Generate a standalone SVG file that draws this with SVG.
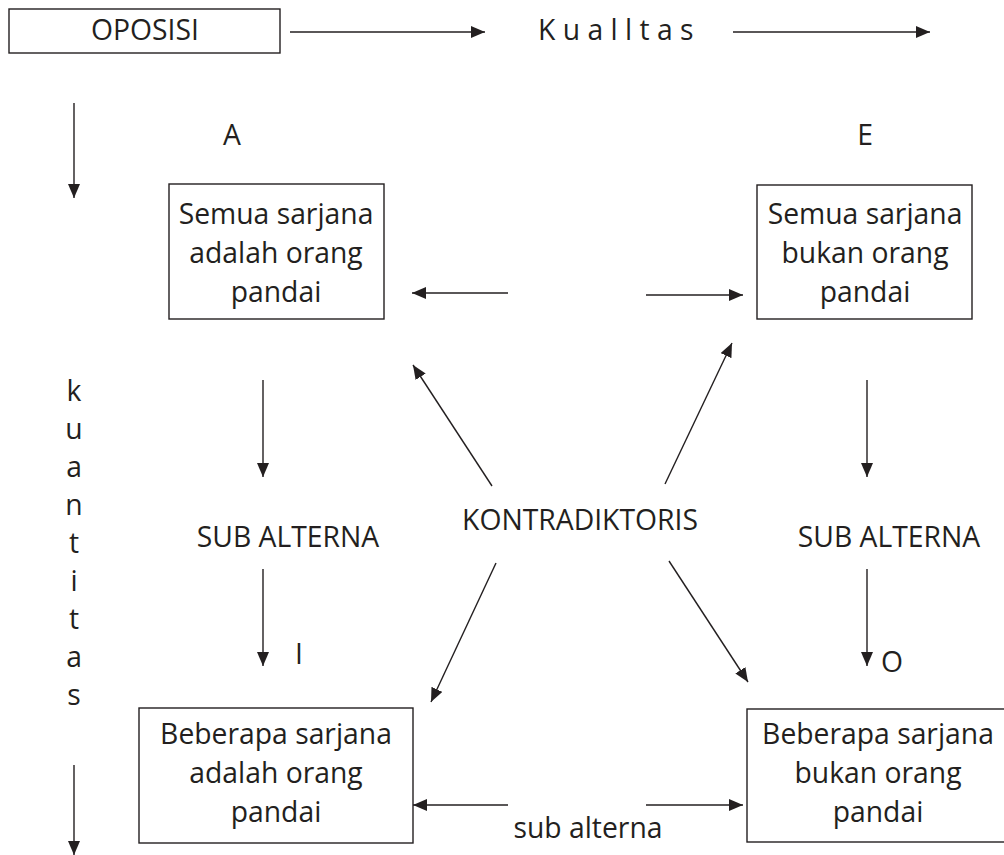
<svg xmlns="http://www.w3.org/2000/svg" width="1004" height="855" viewBox="0 0 1004 855">
<defs>
<marker id="ah" markerUnits="userSpaceOnUse" markerWidth="15" markerHeight="13" refX="14" refY="6" orient="auto">
<path d="M0,0 L14,6 L0,12 z" fill="#231f20"/>
</marker>
<style>
.box{fill:#fff;stroke:#231f20;stroke-width:1.4}
.t{font-family:"Open Sans","Noto Sans",sans-serif;font-size:28.3px;fill:#231f20;text-anchor:middle}
.c line{stroke:#231f20;stroke-width:1.4;marker-end:url(#ah)}
</style>
</defs>
<rect width="1004" height="855" fill="#fff"/>

<g id="oposisi">
<rect class="box" x="9" y="9" width="271" height="44"/>
<text class="t" x="145" y="40">OPOSISI</text>
</g>
<g id="kualitas">
<text class="t" x="538" y="40" style="text-anchor:start">K u a l l t a s</text>
</g>
<g id="kuantitas">
<text class="t" x="74" y="401">k</text>
<text class="t" x="74" y="439">u</text>
<text class="t" x="74" y="477">a</text>
<text class="t" x="74" y="515">n</text>
<text class="t" x="74" y="553">t</text>
<text class="t" x="74" y="591">i</text>
<text class="t" x="74" y="629">t</text>
<text class="t" x="74" y="667">a</text>
<text class="t" x="74" y="705">s</text>
</g>

<g id="label-A"><text class="t" x="232" y="145">A</text></g>
<g id="label-E"><text class="t" x="865" y="145">E</text></g>
<g id="label-I"><text class="t" x="299" y="664">I</text></g>
<g id="label-O"><text class="t" x="892" y="672">O</text></g>

<g id="node-A">
<rect class="box" x="169" y="184" width="215" height="135"/>
<text class="t" x="276" y="224">Semua sarjana</text>
<text class="t" x="276" y="263">adalah orang</text>
<text class="t" x="276" y="302">pandai</text>
</g>
<g id="node-E">
<rect class="box" x="757" y="185" width="215" height="134"/>
<text class="t" x="865" y="224">Semua sarjana</text>
<text class="t" x="865" y="263">bukan orang</text>
<text class="t" x="865" y="302">pandai</text>
</g>
<g id="node-I">
<rect class="box" x="139" y="708" width="274" height="135"/>
<text class="t" x="276" y="744">Beberapa sarjana</text>
<text class="t" x="276" y="783">adalah orang</text>
<text class="t" x="276" y="822">pandai</text>
</g>
<g id="node-O">
<rect class="box" x="747" y="709" width="264" height="133"/>
<text class="t" x="878" y="744">Beberapa sarjana</text>
<text class="t" x="878" y="783">bukan orang</text>
<text class="t" x="878" y="822">pandai</text>
</g>

<g id="labels">
<text class="t" x="580" y="530">KONTRADIKTORIS</text>
<text class="t" x="288" y="547">SUB ALTERNA</text>
<text class="t" x="889" y="547">SUB ALTERNA</text>
<text class="t" x="588" y="838">sub alterna</text>
</g>

<g id="connectors" class="c">
<line x1="290" y1="32" x2="485" y2="32"/>
<line x1="733" y1="32" x2="930" y2="32"/>
<line x1="74" y1="103" x2="74" y2="198"/>
<line x1="74" y1="765" x2="74" y2="855"/>
<line x1="508" y1="293" x2="412" y2="293"/>
<line x1="646" y1="295" x2="743" y2="295"/>
<line x1="263" y1="380" x2="263" y2="477"/>
<line x1="263" y1="569" x2="263" y2="666"/>
<line x1="867" y1="380" x2="867" y2="477"/>
<line x1="867" y1="569" x2="867" y2="666"/>
<line x1="492" y1="486" x2="413" y2="365"/>
<line x1="665" y1="484" x2="732" y2="343"/>
<line x1="496" y1="563" x2="431" y2="702"/>
<line x1="669" y1="561" x2="748" y2="682"/>
<line x1="508" y1="805" x2="413" y2="805"/>
<line x1="646" y1="805" x2="743" y2="805"/>
</g>
</svg>
